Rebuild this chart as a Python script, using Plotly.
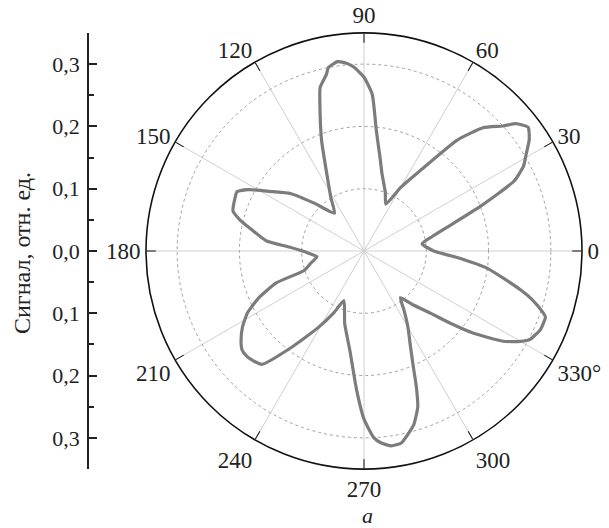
import plotly.graph_objects as go

# Angle (degrees) and signal (rel. units)
theta_deg = [0, 7, 12, 16, 21, 25, 28, 31, 34, 37, 40, 42, 46, 50, 55, 60, 65,
             70, 77, 80, 84, 87, 90, 93, 95, 97, 98, 101, 102, 105, 107, 111, 117, 122, 128,
             136, 142, 147, 152, 155, 159, 163, 166, 169, 174, 177, 182, 187,
             193, 198, 200, 204, 208, 212, 216, 219, 222, 225, 228, 233, 239, 244, 248,
             255, 262, 267, 270, 273, 275, 278, 281, 284, 286, 289, 291, 293, 296, 300, 304, 308,
             312, 317, 320, 323, 327, 330, 332, 336, 340, 341, 344, 346, 352, 356, 360]
signal = [0.112, 0.094, 0.112, 0.139, 0.200, 0.266, 0.290, 0.304, 0.320, 0.330, 0.318, 0.300, 0.275, 0.232, 0.158, 0.118, 0.083,
          0.100, 0.128, 0.150, 0.192, 0.252, 0.279, 0.295, 0.302, 0.306, 0.307, 0.300, 0.290, 0.272, 0.242, 0.190, 0.128, 0.100, 0.077,
          0.110, 0.150, 0.175, 0.210, 0.225, 0.223, 0.220, 0.205, 0.185, 0.158, 0.120, 0.090, 0.076,
          0.088, 0.101, 0.150, 0.185, 0.212, 0.230, 0.244, 0.252, 0.253, 0.250, 0.245, 0.194, 0.144, 0.110, 0.086,
          0.120, 0.162, 0.224, 0.270, 0.300, 0.309, 0.316, 0.314, 0.300, 0.290, 0.265, 0.235, 0.203, 0.170, 0.141, 0.115, 0.095,
          0.115, 0.147, 0.180, 0.219, 0.266, 0.290, 0.302, 0.310, 0.310, 0.304, 0.280, 0.260, 0.200, 0.150, 0.112]

angle_ticks = [0, 30, 60, 90, 120, 150, 180, 210, 240, 270, 300, 330]
angle_labels = ["0", "30", "60", "90", "120", "150", "180", "210", "240", "270", "300", "330°"]
left_tickvals = [-0.3, -0.2, -0.1, 0.0, 0.1, 0.2, 0.3]
left_ticktext = ["0,3", "0,2", "0,1", "0,0", "0,1", "0,2", "0,3"]
y_title = "Сигнал, отн. ед."
panel_label = "а"

FONT = "Liberation Serif, Times New Roman, serif"
W, H = 609, 528
cx, cy, R = 364, 251, 218
dom_x = [(cx - R) / W, (cx + R) / W]
dom_y = [1 - (cy + R) / H, 1 - (cy - R) / H]
rmax = 0.35

fig = go.Figure()

# invisible helper trace so the cartesian y axis is drawn
fig.add_trace(go.Scatter(x=[0, 1], y=[-rmax, rmax], mode="markers",
                         marker=dict(opacity=0), hoverinfo="skip", showlegend=False,
                         xaxis="x", yaxis="y"))

fig.add_trace(go.Scatterpolar(r=signal, theta=theta_deg, mode="lines",
                              line=dict(color="#7c7c7c", width=3.2, shape="spline", smoothing=0.5),
                              showlegend=False, subplot="polar2"))

ang_font = dict(family=FONT, size=23, color="#222")
tick_font = dict(family=FONT, size=22, color="#222")

fig.update_layout(
    width=W, height=H,
    margin=dict(l=0, r=0, t=0, b=0, autoexpand=False),
    paper_bgcolor="white", plot_bgcolor="rgba(0,0,0,0)",
    font=tick_font,
    polar=dict(
        domain=dict(x=dom_x, y=dom_y),
        bgcolor="white",
        radialaxis=dict(range=[0, rmax], tickvals=[0.05, 0.15, 0.25], showticklabels=False,
                        ticks="", showline=False, gridcolor="#ececec", gridwidth=1),
        angularaxis=dict(rotation=0, direction="counterclockwise", dtick=15, tick0=0,
                         showticklabels=False, ticks="inside", ticklen=5, tickcolor="#111",
                         tickwidth=1.2, showline=True, linecolor="#111", linewidth=1.6,
                         gridcolor="#eeeeee", gridwidth=1),
    ),
    polar2=dict(
        domain=dict(x=dom_x, y=dom_y),
        bgcolor="rgba(0,0,0,0)",
        radialaxis=dict(range=[0, rmax], tickvals=[0.1, 0.2, 0.3], showticklabels=False,
                        ticks="", showline=False, gridcolor="#a0a0a0", gridwidth=1, griddash="dot"),
        angularaxis=dict(rotation=0, direction="counterclockwise", tickvals=angle_ticks,
                         ticktext=angle_labels, ticks="inside", ticklen=9, tickcolor="#111",
                         tickwidth=1.2, showline=True, linecolor="#111", linewidth=1.6,
                         gridcolor="#cfcfcf", gridwidth=1, tickfont=ang_font),
    ),
    xaxis=dict(domain=[0.0, 0.01], visible=False, range=[0, 1], fixedrange=True),
    yaxis=dict(domain=dom_y, range=[-rmax, rmax], anchor="free", position=88 / W,
               side="left", tickvals=left_tickvals, ticktext=left_ticktext,
               ticks="inside", ticklen=8, tickwidth=1.5, tickcolor="#222",
               minor=dict(dtick=0.05, tick0=0, ticks="inside", ticklen=5, tickwidth=1.5, tickcolor="#222"),
               showline=True, linecolor="#222", linewidth=1.5, showgrid=False, zeroline=False,
               tickfont=tick_font, ticklabelstandoff=3),
)

fig.add_annotation(x=22 / W, y=1 - 253 / H, xref="paper", yref="paper",
                   text=y_title, textangle=-90, showarrow=False,
                   font=dict(family=FONT, size=24, color="#222"), yanchor="middle", xanchor="center")
fig.add_annotation(x=367 / W, y=1 - 515 / H, xref="paper", yref="paper",
                   text="<i>" + panel_label + "</i>", showarrow=False,
                   xanchor="center", yanchor="middle",
                   font=dict(family=FONT, size=22, color="#222"))

fig.write_html("out.html", config={"displayModeBar": False},
               post_script="document.body.style.margin='0';document.body.style.padding='0';")
